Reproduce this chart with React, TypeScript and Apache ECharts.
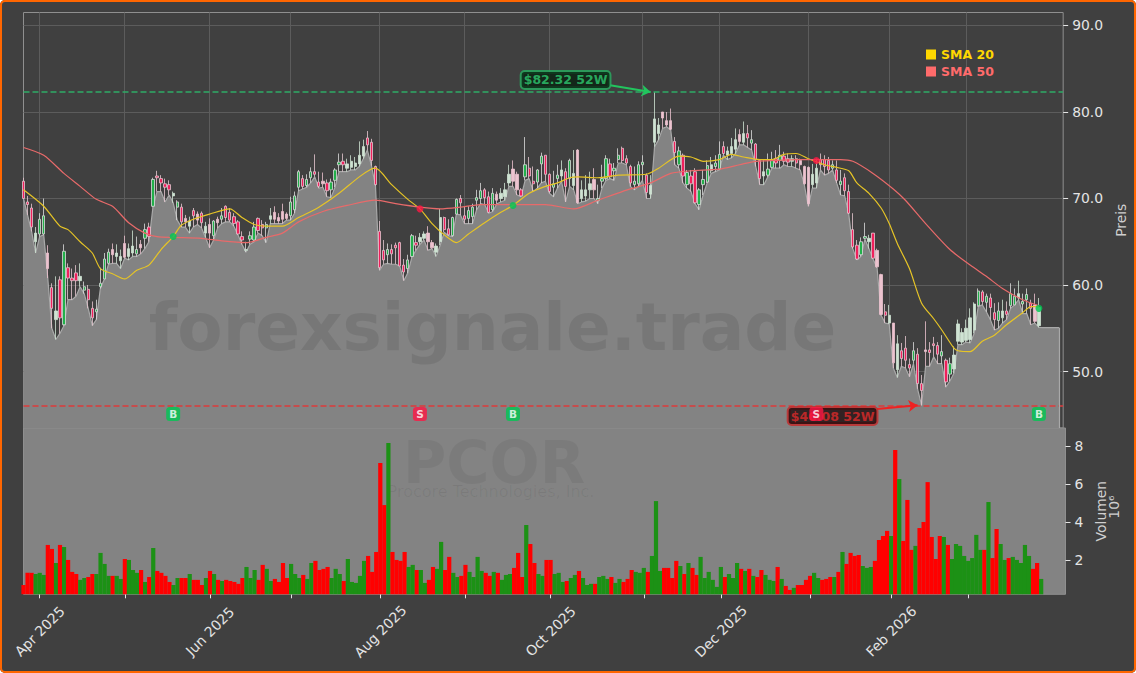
import React, { useEffect, useRef } from "react";
import * as echarts from "echarts";

const FONT = "DejaVu Sans";
const firstDay = "2025-03-26";
const barCount = 252;
const extraCount = 6;
const marketHolidays = ["2025-04-18", "2025-05-26", "2025-06-19", "2025-07-04", "2025-09-01", "2025-11-27", "2025-12-25", "2026-01-01", "2026-01-19", "2026-02-16"];

const opens = [
  72,69.6,68.9,65,65.9,65.9,63.7,59.7,56,60.6,
  55.4,62,60.8,61.4,60.5,59.4,59.5,57.3,56.9,59.8,
  60.7,62.5,64.1,63.3,62.8,64.8,63.3,63.7,63.6,64.7,
  65.4,66.7,69.1,72.6,72.3,71.7,71.6,70.3,69,69,
  67.7,66.8,68.6,68.2,68.3,66,67,65.7,67.6,67.6,
  69.1,68.4,67.9,67.3,65.6,64,65.3,65.2,67.7,67,
  66.6,67.6,68.4,67.8,68.5,68.2,68,68.7,71.3,72.3,
  71.5,72.4,73.1,71.9,72,71.8,71,72.1,73.9,74.3,
  73.5,73.6,73.7,74,74.9,77,76.5,73.7,66.2,64,
  63.5,64.1,64.6,64.9,62.3,61.9,63.3,64.9,65,65.4,
  66,64.9,63.8,65,67.8,66.5,65.7,68.2,70,68,
  67.7,67.9,69.8,70,71,70.2,68.7,70.5,70,70.2,
  71.8,73.4,72.8,71,72.5,73.5,72,71.9,74,75,
  72.8,71.3,72.3,72.6,73.1,72.3,71.5,75.6,70,70.3,
  71,72.2,69.8,72,72.3,74,73.2,74.5,75.8,74.6,
  73.7,71.6,71.7,73.9,72.7,70.5,76.5,77.5,80,79,
  79,76.6,73.9,75,71.6,72.6,73.1,69.3,71.6,71.9,
  73.2,73.7,73.4,76,75,75.2,75.7,77.4,76.5,77.5,
  76.4,76.3,74.4,72.6,72.7,73.6,74.6,74.4,74.9,74.6,
  74.3,74.6,74.4,73.7,73.6,71.6,71.8,74.5,74.5,74.4,
  73.5,73.3,71.6,72.4,70.8,66.4,64.6,63.5,65.4,65,
  66,64,61.2,56.9,55.6,55.6,50.2,52.4,52.7,50.8,
  51.3,52,48.6,52.5,52.5,53.2,53,51.8,51.3,49.7,
  50.3,53.5,53.4,53.6,53.7,54.8,57.6,59.2,58,58.5,
  56.8,55.9,56.2,57,57.6,57.7,58.5,57.8,58.3,57.9,57.7,55.3,
];
const closes = [
  70,69.3,66.7,66,67.6,68,61.9,57.3,57,56.2,
  63.9,60.8,60.5,60.5,61,59.8,58.3,56.2,57.2,60.2,
  63,63.8,63.5,63.7,63.3,63.2,64.2,64.5,64.1,64.3,
  66.4,65.6,72.2,72.4,71.8,71.3,71,70.6,69.6,67.3,
  67.3,67.4,68,67.5,67.2,66.8,66,67.4,67.2,68,
  67.8,67.5,67.1,65.9,65.2,64.1,65.7,66.7,66.3,66.6,
  67,68,67.6,67.4,67.6,67.7,69.6,70.3,73.1,71.4,
  72.2,73.1,72.8,71.4,71.7,70.9,71.9,73.3,74.2,73.9,
  74,74.3,74.1,75,76,76.2,74.4,71.6,62,62.9,
  64.1,63.6,64.3,62.2,61.5,62.9,65.7,64.6,65.5,65.9,
  65,64.3,64.5,67.8,66.4,65.8,67.8,69.9,69.5,67.6,
  68.6,69,70.1,70.9,70.1,68.4,70.6,69.8,70.6,71,
  72.8,72,71,70.3,73.9,72.6,71.7,73.3,74.9,72.8,
  70.8,71.7,72.7,73.3,71.4,74.4,72.9,69.5,71,71,
  71.7,71,70,72.3,74.6,72.5,73.5,75,74.4,74.1,
  71.8,72,73.9,74.2,70.7,71.5,79.2,78.5,79.3,78.5,
  78,75.3,75.5,72.6,73,71.7,69.5,71,72.2,73.8,
  73.9,74.1,75.1,75.2,75.5,76,76.8,76.6,77.5,77,
  76.8,74.5,72.3,73.1,73.4,74.4,74.1,75,74.3,74.2,
  74.6,74.1,73.9,71.7,69.4,72.8,73.5,73.9,73.7,73.3,
  73.9,72.1,72,70.9,68.3,64.4,63,65,65.6,65.4,
  63.1,62.1,56.6,56.5,56.5,51,53.2,51.5,51.3,50.4,
  52.4,48.6,47.8,52.3,52.2,53,52,52.3,48.8,50.9,
  51.9,55.5,54.5,55,56.2,57.8,59.3,58.1,58.7,57.4,
  56,57,57,56.6,59,58.7,59,58.1,58.9,57.3,55.8,57.4,
];
const highs = [
  72.4,70.3,69.4,66.7,68.3,70,64.6,60.2,61,61,
  64.7,62.5,61.9,62.3,62.5,60.4,60,58.1,58.3,62,
  63.7,64.2,64.8,64.7,64.1,65.7,64.8,66.3,65.6,65.2,
  67.1,67.2,72.4,73.2,72.7,72.3,72.1,70.8,69.8,69.4,
  68.1,67.9,68.9,68.5,68.5,67.3,67.7,67.5,67.9,68.9,
  69.2,68.9,68.3,67.5,66.2,65,66.2,67.3,67.8,67.5,
  67.3,68.9,69.1,68.3,69.4,68.4,70.2,70.8,73.3,72.7,
  72.8,73.6,75.1,73.1,73,72.2,72.3,73.5,75.2,75.2,
  74.6,75,74.8,76.6,76.8,77.8,76.9,73.8,67.4,65.2,
  64.8,64.7,64.9,65,63,63.5,65.9,65.7,66,66.2,
  66.8,65.2,64.8,68.8,67.9,67.6,67.9,70,70.4,69.1,
  69.1,69.4,71,71.8,71.2,70.8,71.2,70.8,71.2,71.8,
  73.9,74.4,73.1,71.2,77.1,74.8,73.7,73.4,75.3,75,
  72.9,73.2,73.9,74.4,73.5,74.6,75.6,75.7,72.1,72.7,
  73.1,73.5,71.6,73.9,75,74.6,74.1,75.8,76,75,
  73.9,73.7,74.3,75,72.9,72.7,82.32,79.3,80,80,
  80.4,77.1,76,75.2,73.3,73.3,73.5,71.2,73.3,74.4,
  74.8,75,76.6,76.6,76,77,78.1,78,78.9,78.5,
  77.9,76.4,74.5,74.5,75.2,75.4,75.6,76.2,75.4,75.2,
  75,75,74.6,73.8,73.7,74,74.6,75.2,75,74.8,
  74.4,74.4,73.3,72.9,71.6,68.3,65.2,65.5,67.2,65.8,
  66,64.2,61.3,57.8,57.7,55.6,54.2,53.3,54.1,51.5,
  53.4,52.7,49.6,55.8,53.4,54,53.4,54.2,51.5,51.6,
  52.9,56,55,56,57.3,58,59.6,59.4,59,59,
  57.9,58,58.3,58.1,60.2,59.6,60.5,59,59.6,58.3,59,58.5,
];
const lows = [
  70,68.1,66.2,63.7,65.6,65.8,60.8,55,53.7,54.4,
  55.3,58.3,58.3,58.7,59.8,59,57.3,55.3,56,59.6,
  60.7,62.4,62.5,62.5,61.9,63.1,62.9,63.3,63.3,63.6,
  64.2,65,69,70.8,70.8,69.6,70.4,69.5,67.5,66.7,
  66.7,66,66.7,67,66.6,65.5,64.3,65.2,66.6,67.1,
  67.3,67.3,66.8,65.8,64.7,63.8,64.7,65,66,65.7,
  64.9,67.1,67.1,67.1,67.1,67.5,67.5,68.3,70.9,71.1,
  71.3,71.8,72.5,71.2,71.3,70.2,70.1,71.3,73.1,73.1,
  73.1,73.3,73.3,73.7,74.6,75.6,73.8,71.5,61.7,62.4,
  62.5,62.4,62.4,62.2,60.5,61.4,63.2,64,64.7,65.2,
  64,64.2,63.3,64.6,66.1,65.7,65.6,68.2,68.1,67.1,
  67.1,67.1,68.7,69.4,69.3,68.3,68.5,69.4,69.6,69.8,
  71.4,71.4,70.4,70.2,72.1,72.3,70.8,71.2,71.8,72,
  70.6,70.2,71.2,72,69.6,71.4,71,69.4,69.6,69.7,
  70,70,69.4,71.2,72.1,72.3,72.1,74.1,74.1,73.9,
  71.4,71,71.4,72.1,70,70,76,76.8,78.1,78.3,
  77.9,73.9,73.5,71.8,71.2,70.8,69.4,68.7,70.4,71.8,
  72.9,73.1,73.3,75,74.5,74.7,75.2,76.2,76.2,75.9,
  75.6,73.7,71.6,71.6,72.5,73.5,73.5,73.5,73.9,73.7,
  73.7,73.5,73.3,71.6,69.1,71.2,71.2,73.3,72.7,72.9,
  73.3,71.8,70.4,70.3,68.2,64.2,62.9,63.3,65.3,64.2,
  63,62,56.5,55.6,55.5,50.4,49.3,50.6,50.4,49.4,
  50.9,48,46.08,50.6,50.6,51.7,50.9,50.9,48.2,48.9,
  49.8,53.1,53.1,53.4,53.3,54.4,57.5,57.7,56.9,56,
  54.8,55,55.6,56,57.3,57.7,58.3,56.7,56.7,55.4,55.6,55.1,
];
const volumes = [
  .68,1.32,1.32,1.26,1.32,1.21,2.79,2.58,1.84,2.79,
  2.68,2.0,1.37,1.26,.95,1.05,1.1,1.26,1.26,2.37,
  1.79,1.16,1.16,1.16,1.0,2.05,2.0,1.47,1.32,1.47,
  .84,1.1,2.63,1.42,1.32,1.16,.84,.68,1.05,1.05,
  1.05,1.26,.95,.95,.68,1.05,1.42,1.26,.95,.89,
  .95,.89,.84,.74,1.05,1.63,1.05,1.47,.95,1.74,
  1.53,.89,1.0,.84,1.84,1.05,1.79,1.26,1.05,1.21,
  1.0,1.84,1.95,1.47,1.53,1.63,1.05,1.53,1.26,.89,
  2.05,.84,.79,1.16,1.95,2.21,1.37,2.42,7.1,4.89,
  8.16,2.42,2.0,1.95,2.42,1.63,1.74,1.47,1.47,.79,
  .95,1.63,1.53,2.95,1.47,2.16,1.32,1.1,1.16,1.74,
  1.37,1.1,2.16,1.42,1.32,1.16,1.37,1.32,.95,1.21,
  1.26,1.58,2.37,1.1,3.84,2.84,1.84,1.26,1.16,2.0,
  2.0,1.26,1.32,.84,.89,1.05,1.21,1.42,1.05,.68,
  .74,.74,1.1,1.16,1.0,1.1,.79,1.0,.84,1.0,
  1.47,1.37,1.32,1.58,1.37,2.21,5.1,1.42,1.58,1.58,
  1.05,1.95,1.68,1.26,1.84,1.58,1.21,2.16,1.05,1.37,
  .95,.58,1.63,1.1,1.26,1.05,1.84,1.53,1.42,1.53,
  1.16,1.1,1.47,1.21,.95,.89,1.63,1.0,.63,.42,
  .53,.68,.68,.95,1.16,1.32,1.05,.95,1.0,1.1,
  1.1,1.37,2.42,1.79,2.37,2.21,2.26,1.68,1.58,1.63,
  1.95,3.05,3.26,3.53,3.26,7.79,6.26,3.0,5.16,2.53,
  2.74,3.68,4.0,6.1,3.21,2.05,3.26,3.21,2.79,2.05,
  2.84,2.74,2.21,1.95,2.1,3.32,2.53,2.53,5.05,2.1,
  3.63,2.84,2.0,2.1,2.16,2.0,1.84,2.79,2.21,1.53,1.84,1.0,
];

const paleCandles = [3,6,8,14,22,23,24,25,26,27,29,37,40,41,43,45,46,48,61,62,63,64,65,74,80,81,82,83,84,98,99,100,101,102,103,117,118,119,120,121,122,133,136,137,138,139,140,141,155,156,157,158,159,160,170,174,175,176,177,178,183,190,192,193,194,195,196,209,211,212,214,215,216,223,230,231,232,233,234,235,242,246,250,251];

const sma20Points = [
  [0,71],[5,69.1],[9,66.8],[11,66.4],[14,65],[17,63.7],[19,61.9],[22,61.3],[25,60.7],[28,61.7],[31,62.3],[34,64.1],[37,65.6],[39,66.9],[42,67.6],[46,68.2],[51,68.8],[54,67.8],[57,67],[60,66.8],[64,66.8],[68,67.8],[73,69],[78,70.6],[83,72.5],[86,73.4],[87,73.5],[91,71.6],[95,69.9],[98,68.8],[101,67.1],[104,65.8],[107,64.9],[110,65.9],[114,67.2],[118,68.4],[121,69.2],[125,70.6],[129,71.4],[132,71.8],[135,72.4],[137,72.5],[142,72.4],[147,72.7],[154,72.8],[157,73.5],[162,74.9],[165,74.8],[168,74.3],[172,74.5],[175,75.1],[178,74.8],[182,74.5],[185,74.5],[188,75.1],[191,75.2],[194,74.6],[198,73.9],[201,73.6],[204,73.2],[206,71.8],[209,70.6],[212,68.9],[214,67.1],[216,64.8],[219,61.9],[222,57.9],[225,56.1],[227,54.8],[230,52.7],[231,52.4],[234,52.3],[237,53.5],[240,54.2],[243,55.4],[247,56.8],[249,57.5],[251,57.5],
];
const sma50Points = [
  [0,75.9],[5,75],[10,72.9],[14,71.4],[18,69.9],[22,69.1],[26,67.2],[30,66],[33,65.6],[37,65.5],[44,65.4],[49,65.1],[55,64.9],[60,65.5],[64,66],[68,67.3],[74,68.5],[80,69.2],[87,69.8],[92,69.4],[98,69],[103,68.8],[108,69],[113,69.3],[121,69.3],[129,69.3],[136,68.8],[142,69.8],[148,70.8],[155,71.8],[160,72.9],[165,73.2],[172,73.4],[177,73.9],[181,74.3],[186,74.4],[191,74.5],[196,74.5],[202,74.5],[205,74.3],[210,72.9],[215,71.1],[218,69.8],[223,67.1],[229,64.1],[234,62.3],[238,61],[242,59.6],[247,58.3],[251,57.6],
];
const crossBuys = [[37,65.6],[121,69.2],[251,57.3]];
const crossSells = [[98,68.8],[196,74.4]];
const buySignals = [37, 121, 251];
const sellSignals = [98, 196];
const signalLevel = 45.09;
const high52 = 82.32;
const low52 = 46.08;
const priceTicks = [50, 60, 70, 80, 90];
const volumeTicks = [2, 4, 6, 8];

const pad = (n: number) => String(n).padStart(2, "0");
function tradingDays(count: number) {
  const out: string[] = [];
  const d = new Date(firstDay + "T00:00:00Z");
  while (out.length < count) {
    const iso = `${d.getUTCFullYear()}-${pad(d.getUTCMonth() + 1)}-${pad(d.getUTCDate())}`;
    const wd = d.getUTCDay();
    if (wd !== 0 && wd !== 6 && !marketHolidays.includes(iso)) out.push(iso);
    d.setUTCDate(d.getUTCDate() + 1);
  }
  return out;
}
const categories = tradingDays(barCount + extraCount);
const isMonthStart = (i: number) => i > 0 && i < barCount && categories[i].slice(5, 7) !== categories[i - 1].slice(5, 7);
const isLabelled = (i: number) => isMonthStart(i) && Number(categories[i].slice(5, 7)) % 2 === 0;
const MONTHS = ["Jan", "Feb", "Mar", "Apr", "May", "Jun", "Jul", "Aug", "Sep", "Oct", "Nov", "Dec"];
const monthLabel = (iso: string) => `${MONTHS[Number(iso.slice(5, 7)) - 1]} ${iso.slice(0, 4)}`;

const areaValues = lows.concat([55.07, 55.07, 55.07, 55.07, 55.07]);
const candleData = opens.map((o, i) => {
  const value = [o, closes[i], lows[i], highs[i]];
  if (!paleCandles.includes(i)) return value;
  const tint = closes[i] >= o ? "#cfe3d3" : "#ecc3cf";
  return { value, itemStyle: { color: tint, color0: tint, borderColor: tint, borderColor0: tint } };
});

const GREEN = "#00c853";
const RED = "#ff1744";
const TICK = "#e4e4e4";
const FRAME = "#8f8f8f";
const GRIDLINE = "#5c5c5c";

export default function App() {
  const ref = useRef<HTMLDivElement>(null);
  useEffect(() => {
    document.body.style.margin = "0";
    const chart = echarts.init(ref.current!, undefined, { renderer: "svg" });
    const xBase = { type: "category", boundaryGap: false, data: categories };
    chart.setOption({
      animation: false,
      textStyle: { fontFamily: FONT },
      grid: [
        { left: 23.5, right: 70.5, top: 12.5, height: 415.5, show: true, borderColor: FRAME, borderWidth: 1, backgroundColor: "transparent" },
        { left: 23.5, right: 70.5, top: 428, height: 166.3, show: true, borderColor: FRAME, borderWidth: 1, backgroundColor: "#838383" },
      ],
      legend: {
        left: 926, top: 48, padding: 0, orient: "vertical", icon: "rect", itemWidth: 10, itemHeight: 10, itemGap: 4,
        selectedMode: false,
        data: [
          { name: "SMA 20", textStyle: { color: "#FFD700" } },
          { name: "SMA 50", textStyle: { color: "#FF6B6B" } },
        ],
        textStyle: { fontFamily: FONT, fontWeight: "bold", fontSize: 12.5 },
      },
      xAxis: [
        {
          ...xBase, gridIndex: 0,
          axisLine: { show: false }, axisTick: { show: false }, axisLabel: { show: false },
          splitLine: { show: true, interval: (i: number) => isMonthStart(i), lineStyle: { color: GRIDLINE, width: 1 } },
        },
        {
          ...xBase, gridIndex: 1,
          axisLine: { show: false },
          axisTick: { show: true, interval: (i: number) => isMonthStart(i), length: 4, lineStyle: { color: TICK } },
          axisLabel: {
            show: true, interval: (i: number) => isLabelled(i), formatter: (v: string) => monthLabel(v),
            rotate: 45, align: "center", verticalAlign: "middle", margin: 37,
            color: TICK, fontFamily: FONT, fontSize: 13.9,
          },
          splitLine: { show: false },
        },
      ],
      yAxis: [
        {
          type: "value", gridIndex: 0, position: "right", min: 43.47, max: 91.5, scale: true,
          name: "Preis", nameLocation: "middle", nameRotate: 90, nameGap: 43,
          nameTextStyle: { color: "#cfcfcf", fontFamily: FONT, fontSize: 13.9 },
          axisLine: { show: false },
          axisTick: { show: true, length: 5, customValues: priceTicks, lineStyle: { color: TICK } },
          axisLabel: { show: true, customValues: priceTicks, formatter: (v: number) => v.toFixed(1), margin: 9, color: TICK, fontFamily: FONT, fontSize: 13.9 },
          splitLine: { show: true, lineStyle: { color: GRIDLINE, width: 1 } },
        },
        {
          type: "value", gridIndex: 1, position: "right", min: 0.19, max: 8.95, scale: true,
          name: "Volumen", nameLocation: "middle", nameRotate: 90, nameGap: 19,
          nameTextStyle: { color: "#cfcfcf", fontFamily: FONT, fontSize: 13.9 },
          axisLine: { show: false },
          axisTick: { show: true, length: 5, customValues: volumeTicks, lineStyle: { color: TICK } },
          axisLabel: { show: true, customValues: volumeTicks, formatter: (v: number) => String(v), margin: 9, color: TICK, fontFamily: FONT, fontSize: 13.9 },
          splitLine: { show: false },
        },
      ],
      series: [
        {
          name: "Tief", type: "line", xAxisIndex: 0, yAxisIndex: 0, data: areaValues, z: 1,
          showSymbol: false, symbol: "none",
          lineStyle: { color: "#a9a9a9", width: 1.2 },
          areaStyle: { color: "#838383", opacity: 1, origin: "start" },
          markLine: {
            silent: true, z: 5, symbol: "none",
            label: { show: false },
            data: [
              { yAxis: high52, symbol: "none", lineStyle: { color: "#2eaa66", type: [6, 3], width: 1.5 } },
              { yAxis: low52, symbol: "none", lineStyle: { color: "#dd3b3b", type: [6, 3], width: 1.5 } },
              [
                { coord: [145, 83.1], symbol: "none", lineStyle: { color: "#22c55e", type: "solid", width: 2 } },
                { coord: [155, 82.3], symbol: "arrow", symbolSize: 9 },
              ],
              [
                { coord: [211, 45.66], symbol: "none", lineStyle: { color: "#ee2222", type: "solid", width: 2 } },
                { coord: [221, 46.1], symbol: "arrow", symbolSize: 9 },
              ],
              [
                { coord: [256, 43.47], symbol: "none", lineStyle: { color: "#a9a9a9", type: "solid", width: 1.2 } },
                { coord: [256, 55.07], symbol: "none" },
              ],
            ],
          },
        },
        {
          name: "Kurs", type: "candlestick", xAxisIndex: 0, yAxisIndex: 0, data: candleData, barWidth: 2.8, z: 3,
          itemStyle: { color: "#22b04a", color0: "#f0205c", borderColor: "#dcdcdc", borderColor0: "#e6c8d0", borderWidth: 0.8 },
        },
        {
          name: "SMA 20", type: "line", xAxisIndex: 0, yAxisIndex: 0, data: sma20Points, z: 4, color: "#FFD700",
          showSymbol: false, symbol: "none", smooth: 0.25, lineStyle: { color: "#e6c426", width: 1.2 },
        },
        {
          name: "SMA 50", type: "line", xAxisIndex: 0, yAxisIndex: 0, data: sma50Points, z: 4, color: "#FF6B6B",
          showSymbol: false, symbol: "none", smooth: 0.25, lineStyle: { color: "#e86a6a", width: 1.2 },
        },
        {
          name: "Kreuz Kauf", type: "scatter", xAxisIndex: 0, yAxisIndex: 0, data: crossBuys, z: 5,
          symbol: "circle", symbolSize: 7, itemStyle: { color: GREEN },
        },
        {
          name: "Kreuz Verkauf", type: "scatter", xAxisIndex: 0, yAxisIndex: 0, data: crossSells, z: 5,
          symbol: "circle", symbolSize: 7, itemStyle: { color: RED },
        },
        {
          name: "Hoch 52W", type: "scatter", xAxisIndex: 0, yAxisIndex: 0, data: [[134, 83.7]], z: 6,
          symbolSize: 1, itemStyle: { color: "transparent" },
          label: {
            show: true, position: "inside", formatter: `$${high52.toFixed(2)} 52W`, color: "#2ecc71",
            fontFamily: FONT, fontWeight: "bold", fontSize: 12.5, backgroundColor: "#08210f",
            borderColor: "#27ae60", borderWidth: 2, borderRadius: 3, padding: [2, 2, 1, 2],
          },
        },
        {
          name: "Tief 52W", type: "scatter", xAxisIndex: 0, yAxisIndex: 0, data: [[200, 44.85]], z: 6,
          symbolSize: 1, itemStyle: { color: "transparent" },
          label: {
            show: true, position: "inside", formatter: `$${low52.toFixed(2)} 52W`, color: "#e02a2a",
            fontFamily: FONT, fontWeight: "bold", fontSize: 12.5, backgroundColor: "#1e0a0b",
            borderColor: "#c62828", borderWidth: 2, borderRadius: 3, padding: [2, 2, 1, 2],
          },
        },
        {
          name: "Buy", type: "scatter", xAxisIndex: 0, yAxisIndex: 0, z: 7,
          data: buySignals.map((i) => [i, signalLevel]),
          symbol: "roundRect", symbolSize: 14, itemStyle: { color: GREEN },
          label: { show: true, position: "inside", formatter: "B", color: "#fff", fontFamily: FONT, fontWeight: "bold", fontSize: 10.5 },
        },
        {
          name: "Sell", type: "scatter", xAxisIndex: 0, yAxisIndex: 0, z: 7,
          data: sellSignals.map((i) => [i, signalLevel]),
          symbol: "roundRect", symbolSize: 14, itemStyle: { color: RED },
          label: { show: true, position: "inside", formatter: "S", color: "#fff", fontFamily: FONT, fontWeight: "bold", fontSize: 10.5 },
        },
        {
          name: "Volumen", type: "bar", xAxisIndex: 1, yAxisIndex: 1, data: volumes, barWidth: 4.2, z: 3,
          itemStyle: { color: (p: any) => (closes[p.dataIndex] >= opens[p.dataIndex] ? "#1c9115" : "#ff0000") },
        },
      ],
      graphic: [
        {
          type: "text", silent: true, z: 2, x: 492.5, y: 327,
          style: { text: "forexsignale.trade", align: "center", verticalAlign: "middle", fill: "rgba(0,0,0,0.09)", font: `bold 66px "${FONT}"` },
        },
        {
          type: "text", silent: true, z: 2, x: 494, y: 462,
          style: { text: "PCOR", align: "center", verticalAlign: "middle", fill: "rgba(0,0,0,0.06)", font: `bold 59px "${FONT}"` },
        },
        {
          type: "text", silent: true, z: 2, x: 491, y: 491,
          style: { text: "Procore Technologies, Inc.", align: "center", verticalAlign: "middle", fill: "rgba(0,0,0,0.06)", font: `16px "${FONT}"` },
        },
        {
          type: "text", silent: true, z: 2, x: 1114, y: 507, rotation: Math.PI / 2,
          style: { text: "10\u2076", align: "center", verticalAlign: "middle", fill: "#cfcfcf", font: `13.9px "${FONT}"` },
        },
      ],
    });
    return () => chart.dispose();
  }, []);
  return (
    <div style={{ position: "fixed", left: 0, top: 0, width: 1136, height: 673, background: "#ffffff" }}>
      <div ref={ref} style={{ position: "absolute", left: 0, top: 0, width: 1136, height: 673, background: "#404040", borderRadius: 5 }} />
      <div style={{ position: "absolute", left: 0, top: 0, width: 1136, height: 673, boxSizing: "border-box", border: "2px solid #ff6600", borderRadius: 5, pointerEvents: "none" }} />
    </div>
  );
}
